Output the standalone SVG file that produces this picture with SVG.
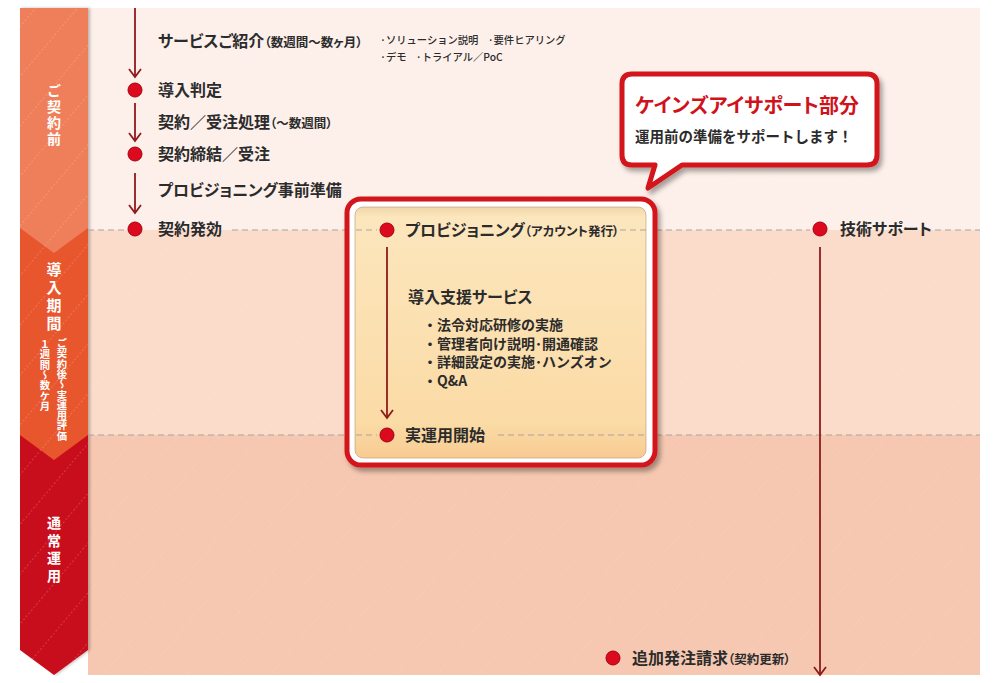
<svg xmlns="http://www.w3.org/2000/svg" width="1000" height="683" viewBox="0 0 1000 683">
<style>
  text { font-family: "Noto Sans CJK JP", "Noto Sans", sans-serif; font-weight: 700; fill: #2b2b2b; }
  .lbl { font-size: 16px; font-feature-settings: "palt" 1; }
  .sm { font-size: 12.5px; }
  .note { font-size: 10.3px; font-weight: 500; }
  .band { fill: #ffffff; font-size: 14px; writing-mode: vertical-rl; }
  .vert { fill: #ffffff; font-size: 10.3px; writing-mode: vertical-rl; }
  .bul { font-size: 14px; }
  .dash { stroke: #a9a3a0; stroke-width: 1; stroke-dasharray: 6 4; fill: none; }
  .flow { stroke: #8e1b1b; stroke-width: 1.8; fill: none; }
  .dot { fill: #dc0a1e; stroke: #a8000f; stroke-width: 1; }
</style>
<defs>
  <marker id="arr" viewBox="-9 -7 10 14" refX="0" refY="0" markerWidth="10" markerHeight="14" markerUnits="userSpaceOnUse" orient="auto" overflow="visible">
    <path d="M-8,-6 L0,0 L-8,6" fill="none" stroke="#8e1b1b" stroke-width="1.8"/>
  </marker>
  <pattern id="stripes" width="32" height="32" patternUnits="userSpaceOnUse" patternTransform="rotate(-50)">
    <line x1="0" y1="0" x2="32" y2="0" stroke="#ffffff" stroke-width="1" stroke-dasharray="2 2" opacity="0.35"/>
  </pattern>
  <linearGradient id="boxfill" x1="0" y1="0" x2="0" y2="1">
    <stop offset="0" stop-color="#f1d6a8"/>
    <stop offset="0.04" stop-color="#fce6bd"/>
    <stop offset="0.86" stop-color="#fbdba6"/>
    <stop offset="1" stop-color="#f8cb92"/>
  </linearGradient>
  <filter id="shadow" x="-10%" y="-10%" width="125%" height="130%">
    <feDropShadow dx="3" dy="4" stdDeviation="2.5" flood-color="#000000" flood-opacity="0.35"/>
  </filter>
  <filter id="bandshadow" x="-10%" y="-5%" width="130%" height="110%">
    <feDropShadow dx="2" dy="0" stdDeviation="1.5" flood-color="#000000" flood-opacity="0.25"/>
  </filter>
</defs>

<!-- background panel -->
<g id="panel">
  <rect x="88" y="8" width="892" height="222" fill="#fdf0ea"/>
  <rect x="88" y="230" width="892" height="205" fill="#fbdccb"/>
  <rect x="88" y="435" width="892" height="240" fill="#f7c8b1"/>
  <rect x="88" y="8" width="892" height="667" fill="url(#stripes)" opacity="0.5"/>
</g>

<!-- left phase band -->
<g id="phase-band" filter="url(#bandshadow)">
  <polygon points="20,435 88,435 88,650 54,675 20,650" fill="#c8101b"/>
  <polygon points="20,228 88,228 88,435 54,460 20,435" fill="#e8562f"/>
  <polygon points="20,8 88,8 88,228 54,253 20,228" fill="#ef7f5a"/>
  <polygon points="20,8 88,8 88,650 54,675 20,650" fill="url(#stripes)"/>
</g>
<g id="phase-pre">
  <text class="band" x="54" y="84" style="letter-spacing:2px">ご契約前</text>
</g>
<g id="phase-intro">
  <text class="band" x="54" y="262" style="font-size:15px; letter-spacing:3px">導入期間</text>
  <text class="vert" x="62" y="338">ご契約後～実運用評価</text>
  <text class="vert" x="45" y="339">１週間～数ケ月</text>
</g>
<g id="phase-ops">
  <text class="band" x="54" y="516" style="letter-spacing:3.5px">通常運用</text>
</g>

<!-- phase separators -->
<g id="separators">
  <line class="dash" x1="88" y1="230" x2="124" y2="230"/>
  <line class="dash" x1="232" y1="230" x2="348" y2="230"/>
  <line class="dash" x1="656" y1="230" x2="810" y2="230"/>
  <line class="dash" x1="935" y1="230" x2="980" y2="230"/>
  <line class="dash" x1="88" y1="435" x2="348" y2="435"/>
  <line class="dash" x1="656" y1="435" x2="980" y2="435"/>
</g>

<!-- highlighted box (support part) -->
<g id="support-box">
  <rect x="347" y="199" width="308" height="266" rx="14" fill="#ffffff" stroke="#d3121c" stroke-width="5" filter="url(#shadow)"/>
  <rect x="355" y="207" width="291" height="251" rx="8" fill="url(#boxfill)" stroke="#b89670" stroke-width="1" stroke-opacity="0.6"/>
  <line class="dash" x1="356" y1="230" x2="377" y2="230"/>
  <line class="dash" x1="610" y1="230" x2="646" y2="230"/>
  <line class="dash" x1="356" y1="435" x2="377" y2="435"/>
  <line class="dash" x1="498" y1="435" x2="646" y2="435"/>
</g>

<!-- callout -->
<g id="callout" filter="url(#shadow)">
  <path d="M632,74 H867 Q877,74 877,84 V155 Q877,165 867,165 H682 L648,188 L655,165 H632 Q622,165 622,155 V84 Q622,74 632,74 Z" fill="#ffffff" stroke="#d3121c" stroke-width="5" stroke-linejoin="round"/>
</g>
<g id="callout-text">
  <text x="635" y="113" style="font-size:20px; fill:#d0121b; font-feature-settings:'palt' 1">ケインズアイサポート部分</text>
  <text x="635" y="142" style="font-size:14.5px">運用前の準備をサポートします！</text>
</g>

<!-- connectors -->
<g id="connectors">
  <line class="flow" x1="135" y1="8" x2="135" y2="77" marker-end="url(#arr)"/>
  <line class="flow" x1="135" y1="103" x2="135" y2="141" marker-end="url(#arr)"/>
  <line class="flow" x1="135" y1="173" x2="135" y2="213" marker-end="url(#arr)"/>
  <line class="flow" x1="387" y1="247" x2="387" y2="418" marker-end="url(#arr)"/>
  <line class="flow" x1="820" y1="247" x2="820" y2="675" marker-end="url(#arr)"/>
</g>

<!-- nodes -->
<g id="node-service">
  <text class="lbl" x="158" y="47">サービスご紹介<tspan class="sm">（数週間～数ヶ月）</tspan></text>
  <text class="note" x="380" y="44">·ソリューション説明&#160;&#160;&#160;&#160;·要件ヒアリング</text>
  <text class="note" x="380" y="61">·デモ&#160;&#160;&#160;&#160;·トライアル／PoC</text>
</g>
<g id="node-judge">
  <circle class="dot" cx="135" cy="90" r="7"/>
  <text class="lbl" x="158" y="96">導入判定</text>
</g>
<g id="node-contract-process">
  <text class="lbl" x="158" y="128">契約／受注処理<tspan class="sm">（～数週間）</tspan></text>
</g>
<g id="node-contract">
  <circle class="dot" cx="135" cy="154" r="7"/>
  <text class="lbl" x="158" y="160">契約締結／受注</text>
</g>
<g id="node-prep">
  <text class="lbl" x="158" y="196">プロビジョニング事前準備</text>
</g>
<g id="node-effective">
  <circle class="dot" cx="135" cy="229" r="7"/>
  <text class="lbl" x="158" y="235">契約発効</text>
</g>
<g id="node-provisioning">
  <circle class="dot" cx="387" cy="230" r="7"/>
  <text class="lbl" x="405" y="236">プロビジョニング<tspan class="sm">（アカウント発行）</tspan></text>
</g>
<g id="node-intro-support">
  <text class="lbl" x="408" y="303">導入支援サービス</text>
  <text class="bul" x="423" y="330">・法令対応研修の実施</text>
  <text class="bul" x="423" y="349">・管理者向け説明･開通確認</text>
  <text class="bul" x="423" y="367">・詳細設定の実施･ハンズオン</text>
  <text class="bul" x="423" y="386">・Q&amp;A</text>
</g>
<g id="node-start">
  <circle class="dot" cx="387" cy="435" r="7"/>
  <text class="lbl" x="405" y="441">実運用開始</text>
</g>
<g id="node-tech">
  <circle class="dot" cx="820" cy="229" r="7"/>
  <text class="lbl" x="840" y="235">技術サポート</text>
</g>
<g id="node-renewal">
  <circle class="dot" cx="613" cy="658" r="7"/>
  <text class="lbl" x="632" y="664">追加発注請求<tspan class="sm">（契約更新）</tspan></text>
</g>
</svg>
